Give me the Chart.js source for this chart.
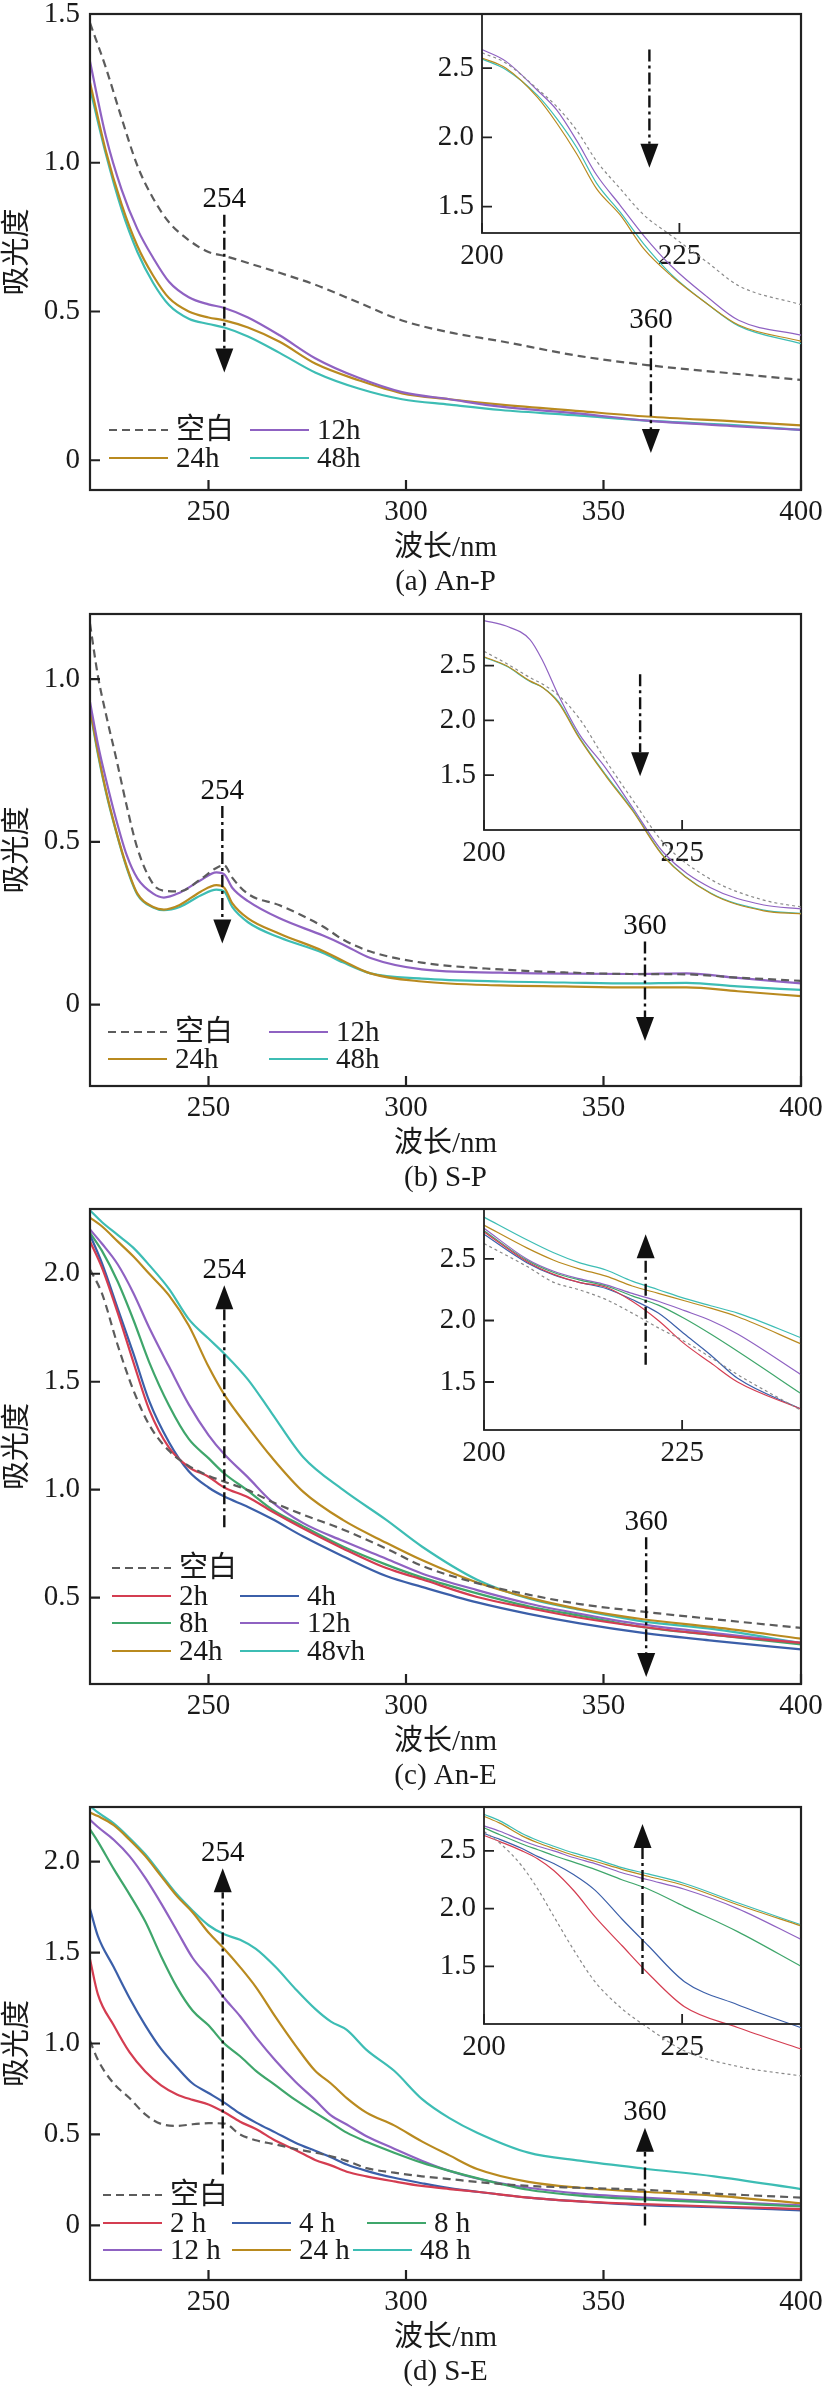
<!DOCTYPE html>
<html>
<head>
<meta charset="utf-8">
<style>
html, body { margin: 0; padding: 0; background: #fff; }
#page { position: relative; width: 824px; height: 2393px; overflow: hidden; background: #fff; }
#page canvas { position: absolute; left: 0; }
</style>
<script src="https://cdn.jsdelivr.net/npm/chart.js@4.4.0/dist/chart.umd.min.js"></script>
</head>
<body>
<div id="page"></div>
<script>
// ---- (a) An-P ----
var waveA = [220, 224, 228, 232, 236, 240, 245, 250, 254, 260, 268, 277, 288, 299, 311, 324, 344, 361, 384, 400];
var blankA = [1.47, 1.32, 1.15, 0.99, 0.88, 0.80, 0.74, 0.70, 0.687, 0.663, 0.63, 0.59, 0.53, 0.47, 0.43, 0.40, 0.35, 0.32, 0.29, 0.27];
var h12A = [1.34, 1.09, 0.91, 0.777, 0.68, 0.60, 0.548, 0.524, 0.512, 0.48, 0.42, 0.343, 0.277, 0.229, 0.205, 0.18, 0.157, 0.133, 0.114, 0.102];
var h24A = [1.27, 1.04, 0.86, 0.72, 0.62, 0.545, 0.50, 0.48, 0.47, 0.446, 0.398, 0.325, 0.269, 0.225, 0.205, 0.187, 0.165, 0.147, 0.13, 0.117];
var h48A = [1.25, 1.03, 0.843, 0.70, 0.596, 0.522, 0.476, 0.458, 0.446, 0.416, 0.361, 0.295, 0.241, 0.205, 0.187, 0.169, 0.15, 0.133, 0.117, 0.102];
var waveInA = [200, 203, 207, 209.5, 212, 214.5, 217.5, 220.5, 224, 228.5, 232.5, 240.4];
var blankInA = [2.61, 2.537, 2.35, 2.22, 2.05, 1.83, 1.63, 1.44, 1.29, 1.10, 0.93, 0.793];
var h12InA = [2.634, 2.55, 2.34, 2.195, 1.976, 1.73, 1.51, 1.29, 1.07, 0.85, 0.68, 0.573];
var h24InA = [2.573, 2.5, 2.29, 2.10, 1.88, 1.63, 1.44, 1.195, 1.0, 0.80, 0.646, 0.53];
var h48InA = [2.566, 2.49, 2.305, 2.134, 1.927, 1.67, 1.46, 1.23, 1.01, 0.80, 0.64, 0.512];

// ---- (b) S-P ----
var waveB = [220, 222, 224, 226.7, 229.3, 232, 236, 238.7, 242.7, 248, 252, 254, 256, 260, 268, 279, 284, 291, 304, 324, 340, 357, 371, 384, 400];
var blankB = [1.17, 1.01, 0.894, 0.753, 0.61, 0.48, 0.37, 0.35, 0.348, 0.385, 0.42, 0.428, 0.39, 0.34, 0.305, 0.24, 0.2, 0.163, 0.129, 0.108, 0.099, 0.094, 0.093, 0.083, 0.073];
var h12B = [0.93, 0.8, 0.694, 0.565, 0.459, 0.388, 0.341, 0.329, 0.344, 0.382, 0.406, 0.40, 0.359, 0.318, 0.265, 0.212, 0.185, 0.143, 0.108, 0.098, 0.095, 0.094, 0.096, 0.082, 0.065];
var h24B = [0.91, 0.776, 0.659, 0.53, 0.424, 0.341, 0.30, 0.292, 0.306, 0.347, 0.367, 0.359, 0.312, 0.265, 0.218, 0.165, 0.135, 0.096, 0.071, 0.059, 0.056, 0.053, 0.053, 0.041, 0.026];
var h48B = [0.906, 0.77, 0.655, 0.527, 0.42, 0.338, 0.298, 0.29, 0.30, 0.335, 0.353, 0.347, 0.30, 0.253, 0.206, 0.159, 0.13, 0.096, 0.08, 0.071, 0.068, 0.065, 0.067, 0.056, 0.045];
var waveInB = [200, 202.8, 205.8, 207.4, 209.4, 212, 215.4, 218.7, 222.7, 228.6, 235.3, 240];
var blankInB = [2.63, 2.52, 2.39, 2.33, 2.228, 2.02, 1.63, 1.28, 0.88, 0.55, 0.36, 0.298];
var h12InB = [2.91, 2.86, 2.737, 2.544, 2.228, 1.877, 1.56, 1.21, 0.79, 0.474, 0.316, 0.281];
var h24InB = [2.58, 2.50, 2.36, 2.30, 2.16, 1.84, 1.49, 1.18, 0.754, 0.42, 0.263, 0.235];
var h48InB = [2.575, 2.495, 2.355, 2.30, 2.17, 1.85, 1.50, 1.19, 0.76, 0.425, 0.27, 0.24];

// ---- (c) An-E ----
var waveC = [220, 223, 227, 231, 235, 240, 245, 250, 254, 260, 266, 274, 284, 295, 304, 318, 331, 344, 360, 378, 400];
var blankC = [2.02, 1.91, 1.67, 1.46, 1.30, 1.18, 1.11, 1.065, 1.037, 0.998, 0.944, 0.884, 0.816, 0.727, 0.648, 0.567, 0.514, 0.47, 0.435, 0.40, 0.36];
var h2C = [2.15, 2.03, 1.82, 1.59, 1.37, 1.195, 1.105, 1.06, 1.01, 0.965, 0.9, 0.82, 0.728, 0.637, 0.585, 0.503, 0.452, 0.407, 0.364, 0.327, 0.29];
var h4C = [2.18, 2.05, 1.84, 1.63, 1.41, 1.22, 1.085, 1.01, 0.968, 0.92, 0.865, 0.783, 0.692, 0.60, 0.55, 0.478, 0.425, 0.381, 0.337, 0.30, 0.26];
var h8C = [2.19, 2.107, 1.964, 1.786, 1.59, 1.39, 1.235, 1.146, 1.075, 0.995, 0.91, 0.83, 0.737, 0.653, 0.594, 0.52, 0.46, 0.416, 0.363, 0.327, 0.283];
var h12C = [2.205, 2.14, 2.044, 1.91, 1.75, 1.57, 1.395, 1.253, 1.164, 1.057, 0.945, 0.845, 0.763, 0.68, 0.612, 0.535, 0.473, 0.425, 0.375, 0.336, 0.29];
var h24C = [2.26, 2.22, 2.15, 2.08, 2.0, 1.9, 1.76, 1.57, 1.44, 1.29, 1.15, 0.99, 0.86, 0.754, 0.674, 0.57, 0.50, 0.447, 0.40, 0.363, 0.31];
var h48C = [2.294, 2.24, 2.18, 2.12, 2.04, 1.93, 1.79, 1.70, 1.63, 1.51, 1.355, 1.15, 1.0, 0.86, 0.737, 0.583, 0.496, 0.444, 0.39, 0.354, 0.29];
var waveInC = [200, 205.4, 208.8, 212, 215.4, 218.7, 222, 225.3, 228.6, 232, 240];
var blankInC = [2.625, 2.44, 2.31, 2.25, 2.17, 2.06, 1.94, 1.83, 1.70, 1.56, 1.27];
var h2InC = [2.72, 2.48, 2.375, 2.31, 2.27, 2.156, 2.0, 1.81, 1.656, 1.5, 1.28];
var h4InC = [2.70, 2.47, 2.37, 2.31, 2.26, 2.17, 2.06, 1.89, 1.72, 1.53, 1.28];
var h8InC = [2.73, 2.49, 2.39, 2.33, 2.28, 2.2, 2.125, 2.016, 1.89, 1.75, 1.406];
var h12InC = [2.75, 2.50, 2.40, 2.34, 2.29, 2.22, 2.156, 2.08, 2.0, 1.89, 1.56];
var h24InC = [2.775, 2.59, 2.49, 2.42, 2.36, 2.28, 2.22, 2.16, 2.10, 2.03, 1.81];
var h48InC = [2.84, 2.656, 2.55, 2.47, 2.41, 2.32, 2.25, 2.18, 2.12, 2.06, 1.86];

// ---- (d) S-E ----
var waveD = [220, 222, 226, 230, 234, 238, 242, 246, 250, 254, 258, 262, 267, 272, 277, 281, 285, 290, 297, 304, 311, 318, 331, 344, 360, 378, 400];
var blankD = [1.016, 0.91, 0.78, 0.70, 0.61, 0.558, 0.547, 0.556, 0.562, 0.56, 0.50, 0.468, 0.445, 0.42, 0.40, 0.38, 0.355, 0.315, 0.29, 0.27, 0.255, 0.239, 0.217, 0.207, 0.196, 0.175, 0.153];
var h2D = [1.463, 1.27, 1.10, 0.952, 0.846, 0.77, 0.72, 0.69, 0.665, 0.622, 0.57, 0.53, 0.465, 0.415, 0.36, 0.33, 0.295, 0.27, 0.242, 0.217, 0.20, 0.185, 0.153, 0.132, 0.117, 0.104, 0.09];
var h4D = [1.74, 1.59, 1.42, 1.25, 1.10, 0.97, 0.87, 0.78, 0.728, 0.675, 0.615, 0.565, 0.51, 0.455, 0.41, 0.375, 0.335, 0.30, 0.262, 0.232, 0.205, 0.185, 0.153, 0.132, 0.111, 0.10, 0.083];
var h8D = [2.177, 2.11, 1.96, 1.82, 1.67, 1.48, 1.31, 1.18, 1.10, 1.0, 0.93, 0.85, 0.77, 0.69, 0.62, 0.565, 0.51, 0.46, 0.40, 0.345, 0.30, 0.26, 0.196, 0.164, 0.143, 0.126, 0.104];
var h12D = [2.23, 2.19, 2.12, 2.03, 1.91, 1.77, 1.62, 1.47, 1.365, 1.25, 1.15, 1.035, 0.905, 0.79, 0.69, 0.605, 0.555, 0.49, 0.422, 0.356, 0.30, 0.258, 0.207, 0.175, 0.153, 0.132, 0.11];
var h24D = [2.27, 2.25, 2.20, 2.12, 2.03, 1.92, 1.81, 1.72, 1.61, 1.52, 1.42, 1.31, 1.145, 0.99, 0.85, 0.78, 0.70, 0.62, 0.55, 0.462, 0.385, 0.31, 0.239, 0.207, 0.185, 0.164, 0.121];
var h48D = [2.305, 2.27, 2.21, 2.13, 2.04, 1.93, 1.82, 1.73, 1.65, 1.60, 1.57, 1.52, 1.42, 1.30, 1.19, 1.12, 1.075, 0.965, 0.85, 0.696, 0.59, 0.51, 0.40, 0.356, 0.313, 0.27, 0.20];
var waveInD = [200, 202, 204.8, 206.8, 208.8, 211.4, 214, 217.4, 220.7, 225.3, 232, 240];
var blankInD = [2.667, 2.567, 2.367, 2.167, 1.933, 1.633, 1.367, 1.133, 0.967, 0.767, 0.633, 0.55];
var h2InD = [2.633, 2.58, 2.50, 2.43, 2.33, 2.15, 1.93, 1.68, 1.44, 1.15, 0.97, 0.783];
var h4InD = [2.65, 2.6, 2.52, 2.45, 2.39, 2.29, 2.16, 1.91, 1.68, 1.367, 1.167, 0.967];
var h8InD = [2.70, 2.64, 2.56, 2.51, 2.46, 2.40, 2.34, 2.25, 2.17, 2.017, 1.80, 1.5];
var h12InD = [2.717, 2.67, 2.59, 2.54, 2.50, 2.44, 2.39, 2.31, 2.25, 2.167, 2.0, 1.733];
var h24InD = [2.80, 2.74, 2.63, 2.57, 2.52, 2.46, 2.41, 2.34, 2.28, 2.2, 2.033, 1.85];
var h48InD = [2.817, 2.76, 2.65, 2.59, 2.54, 2.48, 2.43, 2.355, 2.30, 2.217, 2.05, 1.86];

// tick values and marker arrows
var xTicksMain = [250, 300, 350, 400];
var xTicksInset = [200, 225];
var yTicksInset = [1.5, 2.0, 2.5];
var arrowsA = [{x: 254, from: 0.825, to: 0.295, label: '254'}, {x: 362, from: 0.42, to: 0.024, label: '360'}];
var arrowsB = [{x: 253.5, from: 0.61, to: 0.188, label: '254'}, {x: 360.5, from: 0.194, to: -0.112, label: '360'}];
var arrowsC = [{x: 254, from: 0.826, to: 1.947, label: '254'}, {x: 360.8, from: 0.78, to: 0.132, label: '360'}];
var arrowsD = [{x: 253.6, from: 0.28, to: 1.964, label: '254'}, {x: 360.5, from: 0.0, to: 0.537, label: '360'}];

var FONT = '"Liberation Serif", "Times New Roman", "DejaVu Serif", "Noto Sans CJK SC", serif';
var FS = 29;
var INK = '#1a1a1a';
var colors = {
    blank: '#5c5c5c', h2: '#d43d51', h4: '#3b5fa9', h8: '#3fa66b',
    h12: '#8f62c2', h24: '#b98a1f', h48: '#3dbdb4'
};

function line(label, key, xs, ys, inset) {
    var ds = {
        label: label,
        data: xs.map(function(x, i) { return {x: x, y: ys[i]}; }),
        borderColor: key == 'blank' && inset ? '#8a8a8a' : colors[key],
        borderWidth: inset ? 1.2 : 2.2,
        borderDash: key == 'blank' ? (inset ? [3, 3] : [8, 5]) : [],
        pointRadius: 0,
        fill: false,
        cubicInterpolationMode: 'monotone'
    };
    if (inset) ds.clip = false;
    return ds;
}

// box round the plot with ticks pointing inwards
function framePlugin(len, lw) {
    return {
        id: 'frame',
        afterDatasetsDraw: function(chart) {
            var a = chart.chartArea, ctx = chart.ctx;
            var sx = chart.scales.x, sy = chart.scales.y;
            ctx.save();
            ctx.strokeStyle = '#222';
            ctx.lineWidth = lw;
            ctx.setLineDash([]);
            ctx.strokeRect(a.left, a.top, a.right - a.left, a.bottom - a.top);
            ctx.beginPath();
            sx.ticks.forEach(function(t) {
                var px = sx.getPixelForValue(t.value);
                ctx.moveTo(px, a.bottom);
                ctx.lineTo(px, a.bottom - len);
            });
            sy.ticks.forEach(function(t) {
                var py = sy.getPixelForValue(t.value);
                ctx.moveTo(a.left, py);
                ctx.lineTo(a.left + len, py);
            });
            ctx.stroke();
            ctx.restore();
        }
    };
}

// dash-dot arrows with a filled head
function arrowPlugin(items) {
    return {
        id: 'arrows',
        afterDatasetsDraw: function(chart) {
            var ctx = chart.ctx, sx = chart.scales.x, sy = chart.scales.y;
            ctx.save();
            ctx.strokeStyle = '#111';
            ctx.fillStyle = '#111';
            items.forEach(function(it) {
                var x = sx.getPixelForValue(it.x);
                var y1 = sy.getPixelForValue(it.from);
                var y2 = sy.getPixelForValue(it.to);
                var dir = y2 > y1 ? 1 : -1;
                var base = y2 - dir * 24;
                ctx.lineWidth = 2.4;
                ctx.setLineDash([12, 4, 3, 4]);
                ctx.beginPath();
                ctx.moveTo(x, y1);
                ctx.lineTo(x, base);
                ctx.stroke();
                ctx.setLineDash([]);
                ctx.beginPath();
                ctx.moveTo(x - 9, base);
                ctx.lineTo(x + 9, base);
                ctx.lineTo(x, y2);
                ctx.closePath();
                ctx.fill();
                if (it.label) {
                    ctx.font = FS + 'px ' + FONT;
                    ctx.textAlign = 'center';
                    ctx.textBaseline = 'middle';
                    ctx.fillText(it.label, x, Math.min(y1, y2) - 15);
                }
            });
            ctx.restore();
        }
    };
}

// legend laid out at fixed spots inside the plot
function legendPlugin(items, top) {
    return {
        id: 'posLegend',
        afterDraw: function(chart) {
            var ctx = chart.ctx;
            ctx.save();
            items.forEach(function(it) {
                var ds = chart.data.datasets[it.i];
                var y = it.y - top;
                ctx.strokeStyle = ds.borderColor;
                ctx.lineWidth = ds.borderWidth;
                ctx.setLineDash(ds.borderDash);
                ctx.beginPath();
                ctx.moveTo(it.x, y);
                ctx.lineTo(it.x + 59, y);
                ctx.stroke();
                ctx.setLineDash([]);
                ctx.fillStyle = INK;
                ctx.font = FS + 'px ' + FONT;
                ctx.textAlign = 'left';
                ctx.textBaseline = 'middle';
                ctx.fillText(ds.label, it.x + 67, y + 1);
            });
            ctx.restore();
        }
    };
}

function fixTicks(values) {
    return function(s) { s.ticks = values.map(function(v) { return {value: v}; }); };
}

function yLabel(v) { return v === 0 ? '0' : v.toFixed(1); }

function addCanvas(top, h) {
    var cv = document.createElement('canvas');
    cv.width = 824;
    cv.height = h;
    cv.style.top = top + 'px';
    cv.style.width = '824px';
    cv.style.height = h + 'px';
    document.getElementById('page').appendChild(cv);
    return cv;
}

function makePanel(p) {
    var cTop = p.top - 20;
    var h = p.bottom - p.top + 129;

    new Chart(addCanvas(cTop, h), {
        type: 'line',
        data: {datasets: p.series},
        options: {
            responsive: false,
            animation: false,
            events: [],
            layout: {padding: {top: 20, right: 23, bottom: 0, left: 0}},
            plugins: {legend: {display: false}, tooltip: {enabled: false}},
            scales: {
                x: {
                    type: 'linear', min: 220, max: 400,
                    afterBuildTicks: fixTicks(xTicksMain),
                    grid: {display: false, drawTicks: false},
                    border: {display: false},
                    ticks: {font: {family: FONT, size: FS}, color: INK, padding: 5, autoSkip: false, maxRotation: 0},
                    title: {display: true, text: ['波长/nm', p.caption], color: INK, padding: 0,
                        font: {family: FONT, size: FS, lineHeight: 34 / FS}},
                    afterFit: function(s) { s.height = 109; s.paddingLeft = 0; s.paddingRight = 0; }
                },
                y: {
                    type: 'linear', min: p.yMin, max: p.yMax,
                    afterBuildTicks: fixTicks(p.yTicks),
                    grid: {display: false, drawTicks: false},
                    border: {display: false},
                    ticks: {font: {family: FONT, size: FS}, color: INK, padding: 10, callback: yLabel},
                    title: {display: true, text: '吸光度', color: INK, padding: {top: 1, bottom: 0},
                        font: {family: FONT, size: FS}},
                    afterFit: function(s) { s.width = 90; s.paddingTop = 0; s.paddingBottom = 0; }
                }
            }
        },
        plugins: [framePlugin(10, 2.2), arrowPlugin(p.arrows), legendPlugin(p.legend, cTop)]
    });

    var inset = p.inset;
    new Chart(addCanvas(cTop, h), {
        type: 'line',
        data: {datasets: inset.series},
        options: {
            responsive: false,
            animation: false,
            events: [],
            layout: {padding: {top: 20, right: 23, left: inset.left - 60, bottom: h - (inset.bottom - cTop) - 40}},
            plugins: {legend: {display: false}, tooltip: {enabled: false}},
            scales: {
                x: {
                    type: 'linear', min: 200, max: inset.xMax,
                    afterBuildTicks: fixTicks(xTicksInset),
                    grid: {display: false, drawTicks: false},
                    border: {display: false},
                    ticks: {font: {family: FONT, size: FS}, color: INK, padding: 6, autoSkip: false, maxRotation: 0},
                    afterFit: function(s) { s.height = 40; s.paddingLeft = 0; s.paddingRight = 0; }
                },
                y: {
                    type: 'linear', min: inset.yMin, max: inset.yMax,
                    afterBuildTicks: fixTicks(yTicksInset),
                    grid: {display: false, drawTicks: false},
                    border: {display: false},
                    ticks: {font: {family: FONT, size: FS}, color: INK, padding: 8, callback: yLabel},
                    afterFit: function(s) { s.width = 60; s.paddingTop = 0; s.paddingBottom = 0; }
                }
            }
        },
        plugins: [framePlugin(10, 1.8), arrowPlugin(inset.arrows)]
    });
}

makePanel({
    top: 14, bottom: 490, yMin: -0.1, yMax: 1.5, yTicks: [0, 0.5, 1.0, 1.5], caption: '(a) An-P',
    series: [
        line('空白', 'blank', waveA, blankA), line('12h', 'h12', waveA, h12A),
        line('24h', 'h24', waveA, h24A), line('48h', 'h48', waveA, h48A)
    ],
    arrows: arrowsA,
    legend: [{i: 0, x: 109, y: 430}, {i: 1, x: 250, y: 430}, {i: 2, x: 109, y: 458}, {i: 3, x: 250, y: 458}],
    inset: {
        left: 482, bottom: 233, xMax: 240.4, yMin: 1.31, yMax: 2.89,
        arrows: [{x: 221.2, from: 2.634, to: 1.78}],
        series: [
            line('空白', 'blank', waveInA, blankInA, true), line('12h', 'h12', waveInA, h12InA, true),
            line('24h', 'h24', waveInA, h24InA, true), line('48h', 'h48', waveInA, h48InA, true)
        ]
    }
});

makePanel({
    top: 614, bottom: 1086, yMin: -0.25, yMax: 1.2, yTicks: [0, 0.5, 1.0], caption: '(b) S-P',
    series: [
        line('空白', 'blank', waveB, blankB), line('12h', 'h12', waveB, h12B),
        line('24h', 'h24', waveB, h24B), line('48h', 'h48', waveB, h48B)
    ],
    arrows: arrowsB,
    legend: [{i: 0, x: 108, y: 1032}, {i: 1, x: 269, y: 1032}, {i: 2, x: 108, y: 1059}, {i: 3, x: 269, y: 1059}],
    inset: {
        left: 484, bottom: 830, xMax: 240, yMin: 1.0, yMax: 2.97,
        arrows: [{x: 219.7, from: 2.42, to: 1.49}],
        series: [
            line('空白', 'blank', waveInB, blankInB, true), line('12h', 'h12', waveInB, h12InB, true),
            line('24h', 'h24', waveInB, h24InB, true), line('48h', 'h48', waveInB, h48InB, true)
        ]
    }
});

makePanel({
    top: 1209, bottom: 1684, yMin: 0.1, yMax: 2.3, yTicks: [0.5, 1.0, 1.5, 2.0], caption: '(c) An-E',
    series: [
        line('空白', 'blank', waveC, blankC), line('2h', 'h2', waveC, h2C), line('4h', 'h4', waveC, h4C),
        line('8h', 'h8', waveC, h8C), line('12h', 'h12', waveC, h12C),
        line('24h', 'h24', waveC, h24C), line('48vh', 'h48', waveC, h48C)
    ],
    arrows: arrowsC,
    legend: [{i: 0, x: 112, y: 1568}, {i: 1, x: 112, y: 1596}, {i: 2, x: 240, y: 1596},
        {i: 3, x: 112, y: 1623}, {i: 4, x: 240, y: 1623}, {i: 5, x: 112, y: 1651}, {i: 6, x: 240, y: 1651}],
    inset: {
        left: 484, bottom: 1430, xMax: 240, yMin: 1.11, yMax: 2.906,
        arrows: [{x: 220.4, from: 1.64, to: 2.70}],
        series: [
            line('空白', 'blank', waveInC, blankInC, true), line('2h', 'h2', waveInC, h2InC, true),
            line('4h', 'h4', waveInC, h4InC, true), line('8h', 'h8', waveInC, h8InC, true),
            line('12h', 'h12', waveInC, h12InC, true), line('24h', 'h24', waveInC, h24InC, true),
            line('48vh', 'h48', waveInC, h48InC, true)
        ]
    }
});

makePanel({
    top: 1807, bottom: 2280, yMin: -0.3, yMax: 2.3, yTicks: [0, 0.5, 1.0, 1.5, 2.0], caption: '(d) S-E',
    series: [
        line('空白', 'blank', waveD, blankD), line('2 h', 'h2', waveD, h2D), line('4 h', 'h4', waveD, h4D),
        line('8 h', 'h8', waveD, h8D), line('12 h', 'h12', waveD, h12D),
        line('24 h', 'h24', waveD, h24D), line('48 h', 'h48', waveD, h48D)
    ],
    arrows: arrowsD,
    legend: [{i: 0, x: 103, y: 2195}, {i: 1, x: 103, y: 2223}, {i: 2, x: 232, y: 2223}, {i: 3, x: 367, y: 2223},
        {i: 4, x: 103, y: 2250}, {i: 5, x: 232, y: 2250}, {i: 6, x: 353, y: 2250}],
    inset: {
        left: 484, bottom: 2024, xMax: 240, yMin: 1.0, yMax: 2.88,
        arrows: [{x: 220, from: 1.433, to: 2.733}],
        series: [
            line('空白', 'blank', waveInD, blankInD, true), line('2 h', 'h2', waveInD, h2InD, true),
            line('4 h', 'h4', waveInD, h4InD, true), line('8 h', 'h8', waveInD, h8InD, true),
            line('12 h', 'h12', waveInD, h12InD, true), line('24 h', 'h24', waveInD, h24InD, true),
            line('48 h', 'h48', waveInD, h48InD, true)
        ]
    }
});
</script>
</body>
</html>
